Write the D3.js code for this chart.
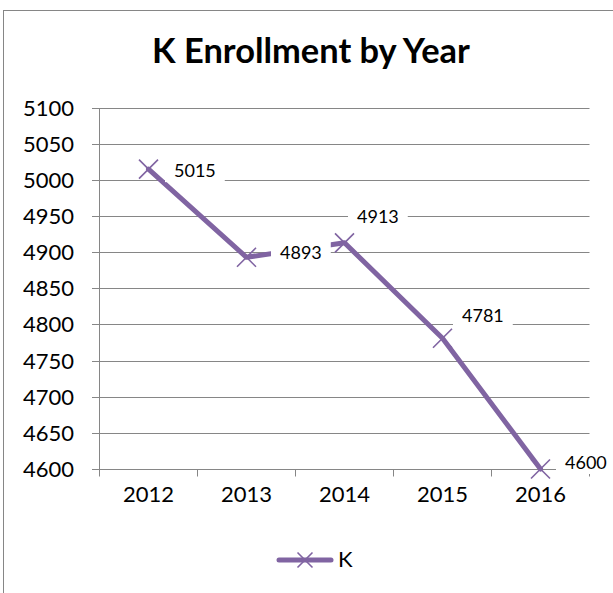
<!DOCTYPE html>
<html>
<head>
<meta charset="utf-8">
<script src="https://cdn.jsdelivr.net/npm/d3@7"></script>
<style>
  html, body { margin: 0; padding: 0; background: #fff; }
  svg { display: block; }
  text { font-family: Lato, "Open Sans", "Liberation Sans", sans-serif; fill: #000; }
</style>
</head>
<body>
<script>
// ---- data ----
const title = "K Enrollment by Year";
const seriesName = "K";
const years = ["2012", "2013", "2014", "2015", "2016"];
const values = [5015, 4893, 4913, 4781, 4600];
const yTicks = [4600, 4650, 4700, 4750, 4800, 4850, 4900, 4950, 5000, 5050, 5100];

// ---- layout (label placement relative to each point: text-left dx, text-centre dy) ----
const labelOffsets = [[25.5, 1], [33.5, -5], [12.5, -26], [19.5, -23], [24.5, -7]];

const W = 613, H = 593;
const color = "#8064A2";
const gridColor = "#868686";

const svg = d3.select("body").append("svg").attr("width", W).attr("height", H);

// outer chart border
svg.append("rect")
  .attr("x", 3.5).attr("y", 10.5).attr("width", 640).attr("height", 640)
  .attr("fill", "#fff").attr("stroke", gridColor).attr("stroke-width", 1);

// title
const t = svg.append("text")
  .attr("x", 311).attr("y", 63)
  .attr("text-anchor", "middle")
  .attr("font-weight", "bold")
  .attr("font-size", 30)
  .text(title);
const tl = t.node().getComputedTextLength();
if (tl > 0) t.attr("font-size", 30 * 318 / tl);

const plotL = 99.5, plotR = 589.5, plotT = 107.7, plotB = 469;
const x = d3.scaleBand().domain(years).range([plotL, plotR]);
const y = d3.scaleLinear().domain([4600, 5100]).range([plotB, plotT]);
const cx = d => x(d) + x.bandwidth() / 2;
const py = v => Math.round(y(v)) + 0.5;

// gridlines + left ticks
svg.append("g").selectAll("line").data(yTicks).enter().append("line")
  .attr("x1", 92).attr("x2", plotR)
  .attr("y1", d => py(d)).attr("y2", d => py(d))
  .attr("stroke", gridColor).attr("stroke-width", 1);

// y-axis line
svg.append("line")
  .attr("x1", Math.round(plotL) - 0.5).attr("x2", Math.round(plotL) - 0.5)
  .attr("y1", py(5100)).attr("y2", py(4600))
  .attr("stroke", gridColor).attr("stroke-width", 1);

// y tick labels
svg.append("g").selectAll("text").data(yTicks).enter().append("text")
  .attr("x", 74).attr("y", d => y(d) + 8)
  .attr("text-anchor", "end").attr("font-size", 22)
  .text(d => d);

// x-axis ticks (band boundaries)
const bounds = years.map(d => x(d)).concat([plotR]);
svg.append("g").selectAll("line").data(bounds).enter().append("line")
  .attr("x1", d => Math.round(d) - 0.5).attr("x2", d => Math.round(d) - 0.5)
  .attr("y1", py(4600)).attr("y2", py(4600) + 7)
  .attr("stroke", gridColor).attr("stroke-width", 1);

// x labels
svg.append("g").selectAll("text").data(years).enter().append("text")
  .attr("x", d => cx(d)).attr("y", 502)
  .attr("text-anchor", "middle").attr("font-size", 22)
  .text(d => d);

// series line
const pts = years.map((d, i) => [cx(d), y(values[i])]);
svg.append("path")
  .attr("d", d3.line()(pts))
  .attr("fill", "none").attr("stroke", color).attr("stroke-width", 5)
  .attr("stroke-linejoin", "round").attr("stroke-linecap", "round");

// X markers
function xMarker(g, px, pyv, s) {
  g.append("path")
    .attr("d", `M${px - s},${pyv - s}L${px + s},${pyv + s}M${px - s},${pyv + s}L${px + s},${pyv - s}`)
    .attr("stroke", color).attr("stroke-width", 1.6).attr("fill", "none");
}
const mg = svg.append("g");
pts.forEach(p => xMarker(mg, p[0], p[1], 9.5));

// data labels with white boxes
const lg = svg.append("g");
values.forEach((v, i) => {
  const [px, pyv] = pts[i];
  const tx = px + labelOffsets[i][0];
  const tc = pyv + labelOffsets[i][1];
  const g = lg.append("g");
  const rect = g.append("rect").attr("fill", "#fff");
  const tt = g.append("text")
    .attr("x", tx).attr("y", tc + 6.5)
    .attr("font-size", 18)
    .text(v);
  const w = tt.node().getComputedTextLength();
  rect.attr("x", tx - 9).attr("y", tc - 12).attr("width", w + 18).attr("height", 24);
});

// legend
const legY = 560;
svg.append("line")
  .attr("x1", 279).attr("x2", 331).attr("y1", legY).attr("y2", legY)
  .attr("stroke", color).attr("stroke-width", 5).attr("stroke-linecap", "round");
xMarker(svg, 305, legY, 7.5);
svg.append("text")
  .attr("x", 338).attr("y", 567)
  .attr("font-size", 22)
  .text(seriesName);
</script>
</body>
</html>
